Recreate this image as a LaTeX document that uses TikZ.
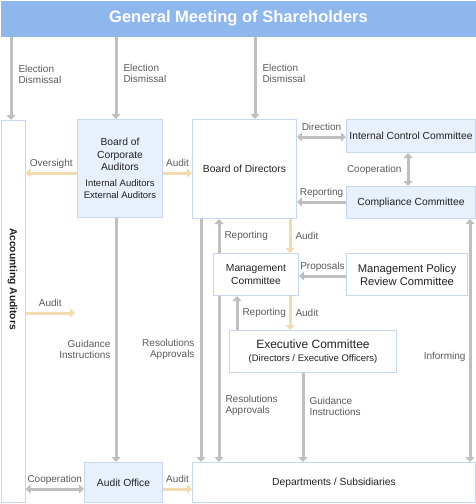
\documentclass[tikz,border=0pt]{standalone}
\usepackage{fontspec}
\setmainfont{Liberation Sans}
\usepackage{xcolor}
\usepackage{tikz}
\usetikzlibrary{arrows.meta}

\definecolor{bannerblue}{HTML}{8EB7EE}
\definecolor{boxfill}{HTML}{E8F0FB}
\definecolor{boxline}{HTML}{C6D8F1}
\definecolor{arrgray}{HTML}{BFBFBF}
\definecolor{arrbeige}{HTML}{F0DCAF}
\definecolor{labgray}{HTML}{5A5A5A}
\definecolor{txtdark}{HTML}{222222}

\begin{document}
\begin{tikzpicture}[x=1pt,y=-1pt,>={Triangle[width=9pt,length=5pt]},
    box/.style={draw=boxline,line width=1pt,fill=white,inner sep=0pt,anchor=north west,
        align=center,text=txtdark,font=\fontsize{10.3}{12.5}\selectfont},
    bluebox/.style={box,fill=boxfill},
    garrow/.style={->,draw=arrgray,line width=3pt},
    darrow/.style={<->,draw=arrgray,line width=3pt},
    barrow/.style={->,draw=arrbeige,line width=3pt},
    lab/.style={text=labgray,font=\fontsize{10}{11}\selectfont,inner sep=0pt},
    hlab/.style={lab,anchor=base,yshift=7pt}]
\useasboundingbox (0,0) rectangle (476,504);

% shareholders
\node[box,draw=none,fill=bannerblue,minimum width=476,minimum height=36,text=white,
    font=\fontsize{16.5}{18}\selectfont\bfseries] (gm) at (0,0) {General Meeting of Shareholders};

% boxes
\node[box,minimum width=24,minimum height=382] (aa) at (0.5,120) {};
\node[rotate=-90,text=txtdark,font=\fontsize{10.3}{12}\selectfont\bfseries,inner sep=0pt]
    (aalab) at (12.5,279) {Accounting Auditors};
\node[bluebox,minimum width=85,minimum height=98] (bca) at (77,119)
    {Board of\\Corporate\\Auditors\\[3pt]\fontsize{9.5}{11.5}\selectfont Internal Auditors\\\fontsize{9.5}{11.5}\selectfont External Auditors};
\node[box,minimum width=104,minimum height=99] (bod) at (192,119) {Board of Directors};
\node[bluebox,minimum width=129,minimum height=33] (icc) at (346,119) {Internal Control Committee};
\node[bluebox,minimum width=129,minimum height=32] (cc) at (346,186) {Compliance Committee};
\node[box,minimum width=85,minimum height=42] (mc) at (213,253) {Management\\Committee};
\node[box,minimum width=121,minimum height=42,font=\fontsize{11.2}{13}\selectfont] (mprc) at (346,253)
    {Management Policy\\Review Committee};
\node[box,minimum width=167,minimum height=42] (ec) at (229,330)
    {\fontsize{12}{12}\selectfont Executive Committee\\\fontsize{9.5}{11}\selectfont (Directors / Executive Officers)};
\node[bluebox,minimum width=78,minimum height=40] (ao) at (84,462) {Audit Office};
\node[box,minimum width=283,minimum height=40] (ds) at (192,462) {Departments / Subsidiaries};
\coordinate (aaend) at (75,313);

% election / dismissal
\draw[garrow] (gm.south -| 11,0) -- (aa.north -| 11,0)
    node[lab,pos=.45,right=6pt,align=left] (le1) {Election\\Dismissal};
\draw[garrow] (gm.south -| 116,0) -- (bca.north -| 116,0)
    node[lab,pos=.45,right=6pt,align=left] (le2) {Election\\Dismissal};
\draw[garrow] (gm.south -| 255,0) -- (bod.north -| 255,0)
    node[lab,pos=.45,right=6pt,align=left] (le3) {Election\\Dismissal};

% corporate auditors
\draw[barrow] (bca.west |- 0,173) -- (aa.east |- 0,173) node[hlab,midway] (lov) {Oversight};
\draw[barrow] (bca.east |- 0,173) -- (bod.west |- 0,173) node[hlab,midway] (lau1) {Audit};
\draw[garrow] (bca.south -| 116,0) -- (ao.north -| 116,0)
    node[lab,pos=.537,left=4pt,align=right] (lgi1) {Guidance\\Instructions};
\draw[barrow] (aa.east |- aaend) -- (aaend) node[hlab,midway] (lau2) {Audit};
\draw[darrow] (aa.east |- 0,489) -- (ao.west |- 0,489) node[hlab,midway] (lco1) {Cooperation};
\draw[barrow] (ao.east |- 0,489) -- (ds.west |- 0,489) node[hlab,midway] (lau3) {Audit};

% board of directors and committees
\draw[darrow] (bod.east |- 0,137) -- (icc.west |- 0,137) node[hlab,midway] (ldi) {Direction};
\draw[darrow] (icc.south -| 408,0) -- (cc.north -| 408,0) node[lab,midway,left=5pt] (lco2) {Cooperation};
\draw[garrow] (cc.west |- 0,202) -- (bod.east |- 0,202) node[hlab,midway] (lre1) {Reporting};
\draw[garrow] (bod.south -| 201,0) -- (ds.north -| 201,0)
    node[lab,pos=.535,left=5pt,align=right] (lra1) {Resolutions\\Approvals};
\draw[garrow] (mc.north -| 219,0) -- (bod.south -| 219,0) node[lab,midway,right=4pt] (lre2) {Reporting};
\draw[barrow] (bod.south -| 290,0) -- (mc.north -| 290,0) node[lab,midway,right=4pt] (lau4) {Audit};
\draw[garrow] (mprc.west |- 0,276) -- (mc.east |- 0,276) node[hlab,midway] (lpr) {Proposals};
\draw[garrow] (ec.north -| 237,0) -- (mc.south -| 237,0) node[lab,midway,right=4pt] (lre3) {Reporting};
\draw[barrow] (mc.south -| 290,0) -- (ec.north -| 290,0) node[lab,midway,right=4pt] (lau5) {Audit};
\draw[garrow] (mc.south -| 219,0) -- (ds.north -| 219,0)
    node[lab,pos=.66,right=5pt,align=left] (lra2) {Resolutions\\Approvals};
\draw[garrow] (ec.south -| 303,0) -- (ds.north -| 303,0)
    node[lab,pos=.37,right=5pt,align=left] (lgi2) {Guidance\\Instructions};
\draw[darrow] (cc.south -| 470,0) -- (ds.north -| 470,0) node[lab,pos=.566,left=3pt] (lin) {Informing};
\end{tikzpicture}
\end{document}
